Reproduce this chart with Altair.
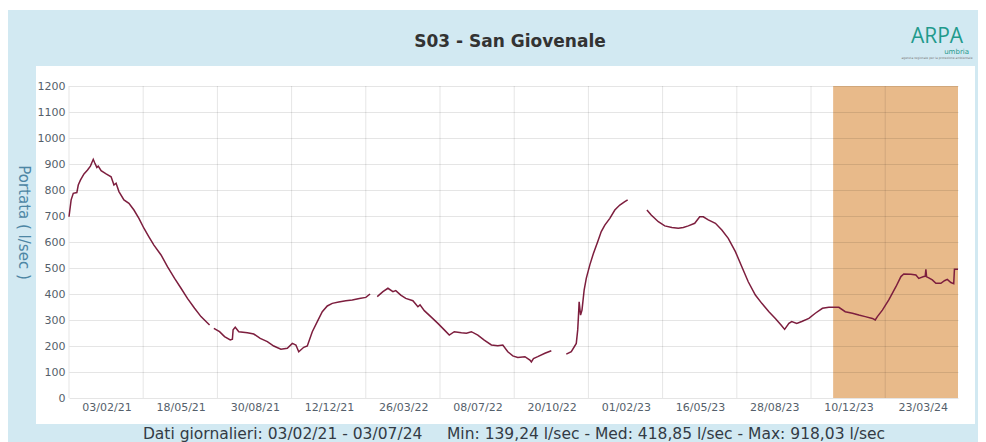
import altair as alt
import pandas as pd

# ---------------- data ----------------
start_date = "2021-02-03"
end_date = "2024-07-03"
band_start = "2024-01-10"      # shaded (non validated) period
band_end = "2024-07-03"

x_labels = ["03/02/21", "18/05/21", "30/08/21", "12/12/21", "26/03/22", "08/07/22",
            "20/10/22", "01/02/23", "16/05/23", "28/08/23", "10/12/23", "23/03/24"]
y_ticks = [0, 100, 200, 300, 400, 500, 600, 700, 800, 900, 1000, 1100, 1200]

# day offsets from start_date and daily discharge (l/sec), one pair per unbroken stretch
days_a = [0, 3, 6, 11, 13, 16, 21, 26, 30, 34, 36, 39, 41, 45, 52, 59, 63, 66, 70, 77,
          84, 91, 98, 105, 112, 119, 129, 138, 148, 157, 166, 176, 185, 197]
vals_a = [697, 762, 787, 790, 819, 838, 862, 877, 892, 918, 905, 887, 892, 874, 862, 851, 819, 826, 794, 762,
          749, 723, 691, 653, 620, 588, 550, 505, 460, 422, 383, 345, 313, 281]

days_b = [203, 211, 218, 226, 229, 230, 233, 238, 250, 259, 268, 278, 287, 297, 306, 313, 318, 322, 329, 334,
          341, 348, 355, 362, 369, 378, 388, 397, 407, 416, 422]
vals_b = [268, 255, 236, 223, 226, 262, 272, 255, 251, 246, 229, 217, 200, 188, 191, 210, 204, 178, 195, 200,
          255, 294, 332, 354, 364, 369, 374, 377, 383, 387, 400]

days_c = [432, 440, 447, 454, 458, 465, 472, 482, 489, 492, 498, 507, 517, 526, 533, 540, 550, 557, 564, 573,
          582, 592, 601, 608, 615, 622, 629, 639, 646, 648, 651, 657, 667, 676]
vals_c = [390, 409, 422, 409, 413, 396, 383, 374, 351, 358, 336, 313, 287, 262, 242, 255, 251, 249, 255, 242,
          223, 204, 201, 204, 178, 162, 156, 159, 146, 139, 152, 159, 172, 182]

days_d = [697, 704, 711, 713, 714, 715, 717, 719, 722, 725, 730, 735, 741, 746, 751, 758, 765, 772, 779, 783]
vals_d = [169, 178, 210, 262, 313, 370, 319, 338, 415, 460, 512, 556, 601, 640, 665, 691, 723, 742, 755, 762]

days_e = [810, 816, 826, 835, 845, 854, 861, 868, 877, 884, 889, 896, 906, 915, 924, 934, 943, 952, 962, 971,
          981, 990, 998, 1003, 1009, 1013, 1020, 1027, 1037, 1046, 1056, 1065, 1079, 1088, 1098, 1107, 1116, 1126,
          1130, 1133, 1140, 1149, 1159, 1166, 1170, 1180, 1187, 1191, 1198, 1200, 1201, 1202, 1205, 1210, 1215,
          1222, 1227, 1231, 1236, 1240, 1241, 1246]
vals_e = [723, 704, 678, 662, 656, 653, 656, 662, 672, 697, 697, 685, 672, 646, 614, 563, 505, 447, 396, 364,
          332, 306, 281, 264, 287, 294, 287, 294, 306, 326, 345, 349, 349, 332, 326, 319, 313, 306,
          300, 313, 338, 377, 428, 467, 477, 476, 473, 460, 467, 468, 495, 466, 462, 454, 441,
          441, 451, 456, 444, 440, 495, 495]

title_text = "S03 - San Giovenale"
y_title = "Portata ( l/sec )"
footer_text = ("Dati giornalieri: 03/02/21 - 03/07/24\u00a0\u00a0\u00a0\u00a0 "
               "Min: 139,24 l/sec - Med: 418,85 l/sec - Max: 918,03 l/sec")

# ---------------- tables ----------------
t0 = pd.Timestamp(start_date)
rows = []
for i, (dd, vv) in enumerate([(days_a, vals_a), (days_b, vals_b), (days_c, vals_c),
                              (days_d, vals_d), (days_e, vals_e)]):
    for d, v in zip(dd, vv):
        rows.append({"date": t0 + pd.Timedelta(days=d), "portata": v, "seg": i})
df = pd.DataFrame(rows)

grid_dates = pd.to_datetime(x_labels, format="%d/%m/%y")
half = 52  # labels sit in the middle of each 104-day interval
grid_df = pd.DataFrame({"date": grid_dates})
label_vals = []
for g in grid_dates:
    m = g + pd.Timedelta(days=half)
    label_vals.append(alt.DateTime(year=m.year, month=m.month, date=m.day, hours=12))

band_df = pd.DataFrame({"b0": [pd.Timestamp(band_start)], "b1": [pd.Timestamp(band_end)],
                        "y0": [0], "y1": [1200]})

s, e = pd.Timestamp(start_date), pd.Timestamp(end_date)
x_scale = alt.Scale(domain=[alt.DateTime(year=s.year, month=s.month, date=s.day),
                            alt.DateTime(year=e.year, month=e.month, date=e.day)], nice=False)
y_scale = alt.Scale(domain=[0, 1200], nice=False)

W, H = 889, 312
FONT = "DejaVu Sans"

x_axis = alt.Axis(values=label_vals,
                  labelExpr="timeFormat(datum.value - %d*86400000, '%%d/%%m/%%y')" % half,
                  grid=False, domain=False, ticks=False, labelOverlap=False,
                  labelFont=FONT, labelFontSize=11, labelColor="#555f6b", labelPadding=3,
                  title=footer_text, titleFont=FONT, titleFontSize=15.5,
                  titleFontWeight="normal", titleColor="#333b45",
                  titleBaseline="middle", titleY=35, zindex=1)
y_axis = alt.Axis(values=y_ticks, format="d", labelOverlap=False,
                  grid=True, gridColor="black", gridOpacity=0.1,
                  domain=False, ticks=False, labelFont=FONT, labelFontSize=11,
                  labelColor="#555f6b", labelPadding=4,
                  title=y_title, titleAngle=90, titleFont=FONT, titleFontSize=15,
                  titleFontWeight="normal", titleColor="#4d86a4",
                  titleX=-46, titleY=136, titleAlign="center", titleBaseline="middle",
                  zindex=1)

one = pd.DataFrame({"a": [0]})

frame = alt.Chart(one).mark_rect(color="#d2e9f2", clip=False).encode(
    x=alt.value(-61), x2=alt.value(909), y=alt.value(-76), y2=alt.value(356))
panel = alt.Chart(one).mark_rect(color="white", clip=False).encode(
    x=alt.value(-33), x2=alt.value(906), y=alt.value(-20), y2=alt.value(338))

band = alt.Chart(band_df).mark_rect(color="#e8ba8a").encode(
    x=alt.X("b0:T", scale=x_scale, axis=x_axis), x2="b1:T",
    y=alt.Y("y0:Q", scale=y_scale, axis=y_axis), y2="y1:Q")

vgrid = alt.Chart(grid_df).mark_rule(color="black", opacity=0.1, strokeWidth=1).encode(
    x=alt.X("date:T", scale=x_scale, axis=x_axis))

line = alt.Chart(df).mark_line(color="#7d1e3e", strokeWidth=1.5).encode(
    x=alt.X("date:T", scale=x_scale, axis=x_axis),
    y=alt.Y("portata:Q", scale=y_scale, axis=y_axis),
    detail="seg:N")

title = alt.Chart(one).mark_text(text=title_text, font=FONT, fontSize=17,
                                 fontWeight="bold", color="#333333", align="center",
                                 baseline="middle", clip=False).encode(
    x=alt.value(441), y=alt.value(-44))

logo = alt.Chart(one).mark_text(text="ARPA", font="Open Sans", fontSize=21, color="#1f9a8c",
                                align="center", baseline="middle", clip=False).encode(
    x=alt.value(868), y=alt.value(-49))
logo2 = alt.Chart(one).mark_text(text="umbria", font=FONT, fontSize=7, color="#1f9a8c",
                                 align="right", baseline="middle", clip=False).encode(
    x=alt.value(900), y=alt.value(-34))
logo3 = alt.Chart(one).mark_text(text="agenzia regionale per la protezione ambientale", font=FONT,
                                 fontSize=3, color="#777777", align="center", baseline="middle",
                                 clip=False).encode(x=alt.value(868), y=alt.value(-28))

chart = alt.layer(frame, panel, band, vgrid, line, title, logo, logo2, logo3).properties(
    width=W, height=H,
    autosize=alt.AutoSizeParams(type="none"),
    padding={"left": 61, "top": 78, "right": 20, "bottom": 44},
).configure(background="white").configure_view(stroke=None)

chart.save("out.html", embed_options={"renderer": "svg", "actions": False})
